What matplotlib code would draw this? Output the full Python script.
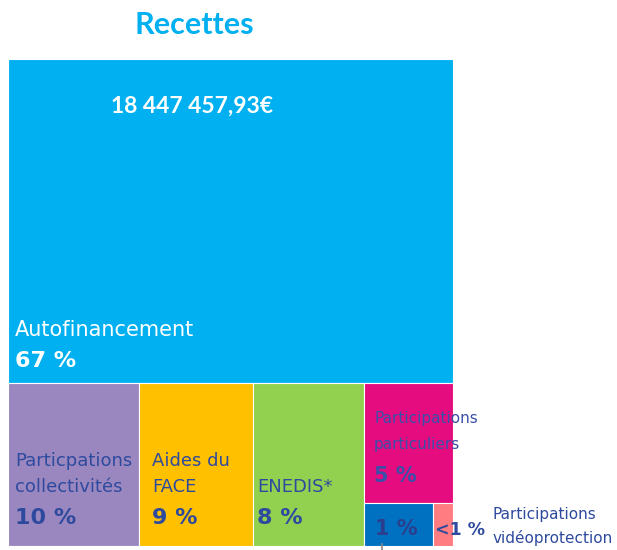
import matplotlib
matplotlib.use("Agg")
import matplotlib.pyplot as plt
from matplotlib.patches import Rectangle

plt.rcParams['font.family'] = ['DejaVu Sans']

W, H = 617, 550

# ---- data ----
categories = ["Autofinancement", "Particpations collectivités", "Aides du FACE",
              "ENEDIS*", "Participations particuliers", "Autres",
              "Participations vidéoprotection"]
values = [66.5, 9.85, 8.57, 8.35, 4.93, 1.37, 0.40]
pct_labels = ["67 %", "10 %", "9 %", "8 %", "5 %", "1 %", "<1 %"]
colors = ["#00B0F0", "#9B87BF", "#FFC000", "#92D050", "#E40C7E", "#0070C0", "#FF7C80"]
total_label = "18 447 457,93€"
title = "Recettes"

# ---- figure ----
fig = plt.figure(figsize=(W / 100, H / 100), dpi=100)
ax = fig.add_axes([8 / W, 4 / H, 445 / W, 487 / H])
ax.set_xlim(0, 1)
ax.set_ylim(0, 1)
ax.axis("off")

total = sum(values)
top_h = values[0] / total
rects = []
rects.append((0, 1 - top_h, 1, top_h))
bottom_h = 1 - top_h
bottom_total = sum(values[1:])
x = 0
for v in values[1:4]:
    w = v / bottom_total
    rects.append((x, 0, w, bottom_h))
    x += w
last_w = 1 - x
last_total = sum(values[4:])
mag_h = bottom_h * values[4] / last_total
rects.append((x, bottom_h - mag_h, last_w, mag_h))
small_h = bottom_h - mag_h
small_total = values[5] + values[6]
w5 = last_w * values[5] / small_total
rects.append((x, 0, w5, small_h))
rects.append((x + w5, 0, last_w - w5, small_h))

for (rx, ry, rw, rh), c in zip(rects, colors):
    ax.add_patch(Rectangle((rx, ry), rw, rh, facecolor=c, edgecolor="white", linewidth=0.8))

def px(xp, yp):
    return xp / W, 1 - yp / H

dark = "#2E4A9E"
fig.text(*px(194, 34), title, color="#00B0F0", fontsize=22, fontweight="bold",
         family=["Lato", "DejaVu Sans"], ha="center", va="baseline")
fig.text(*px(192, 113), total_label, color="white", fontsize=16.5, fontweight="bold",
         family=["Lato", "DejaVu Sans"], ha="center", va="baseline")

fig.text(*px(15, 336), "Autofinancement", color="white", fontsize=15,
         ha="left", va="baseline")
fig.text(*px(15, 367), pct_labels[0], color="white", fontsize=16, fontweight="bold",
         ha="left", va="baseline")

fig.text(*px(15, 466), "Particpations", color=dark, fontsize=13, ha="left", va="baseline")
fig.text(*px(15, 492), "collectivités", color=dark, fontsize=13, ha="left", va="baseline")
fig.text(*px(15, 524), pct_labels[1], color=dark, fontsize=16, fontweight="bold",
         ha="left", va="baseline")

fig.text(*px(152, 466), "Aides du", color=dark, fontsize=13, ha="left", va="baseline")
fig.text(*px(152, 492), "FACE", color=dark, fontsize=13, ha="left", va="baseline")
fig.text(*px(152, 524), pct_labels[2], color=dark, fontsize=16, fontweight="bold",
         ha="left", va="baseline")

fig.text(*px(257, 492), "ENEDIS*", color=dark, fontsize=13, ha="left", va="baseline")
fig.text(*px(257, 524), pct_labels[3], color=dark, fontsize=16, fontweight="bold",
         ha="left", va="baseline")

pp = "#3B4FA8"
fig.text(*px(374, 423), "Participations", color=pp, fontsize=11, ha="left", va="baseline")
fig.text(*px(374, 449), "particuliers", color=pp, fontsize=11, ha="left", va="baseline")
fig.text(*px(374, 482), pct_labels[4], color=pp, fontsize=15, fontweight="bold",
         ha="left", va="baseline")

fig.text(*px(375, 535), pct_labels[5], color="#2B3F8F", fontsize=15, fontweight="bold",
         ha="left", va="baseline")
fig.text(*px(435, 535), pct_labels[6], color=dark, fontsize=12.5, fontweight="bold",
         ha="left", va="baseline")
fig.text(*px(493, 519), "Participations", color=dark, fontsize=11, ha="left", va="baseline")
fig.text(*px(493, 543), "vidéoprotection", color=dark, fontsize=11, ha="left", va="baseline")

fig.add_artist(plt.Line2D([382 / W, 382 / W], [0, 6 / H], color="#888888", linewidth=1.2))

fig.savefig("out.png", dpi=100)
